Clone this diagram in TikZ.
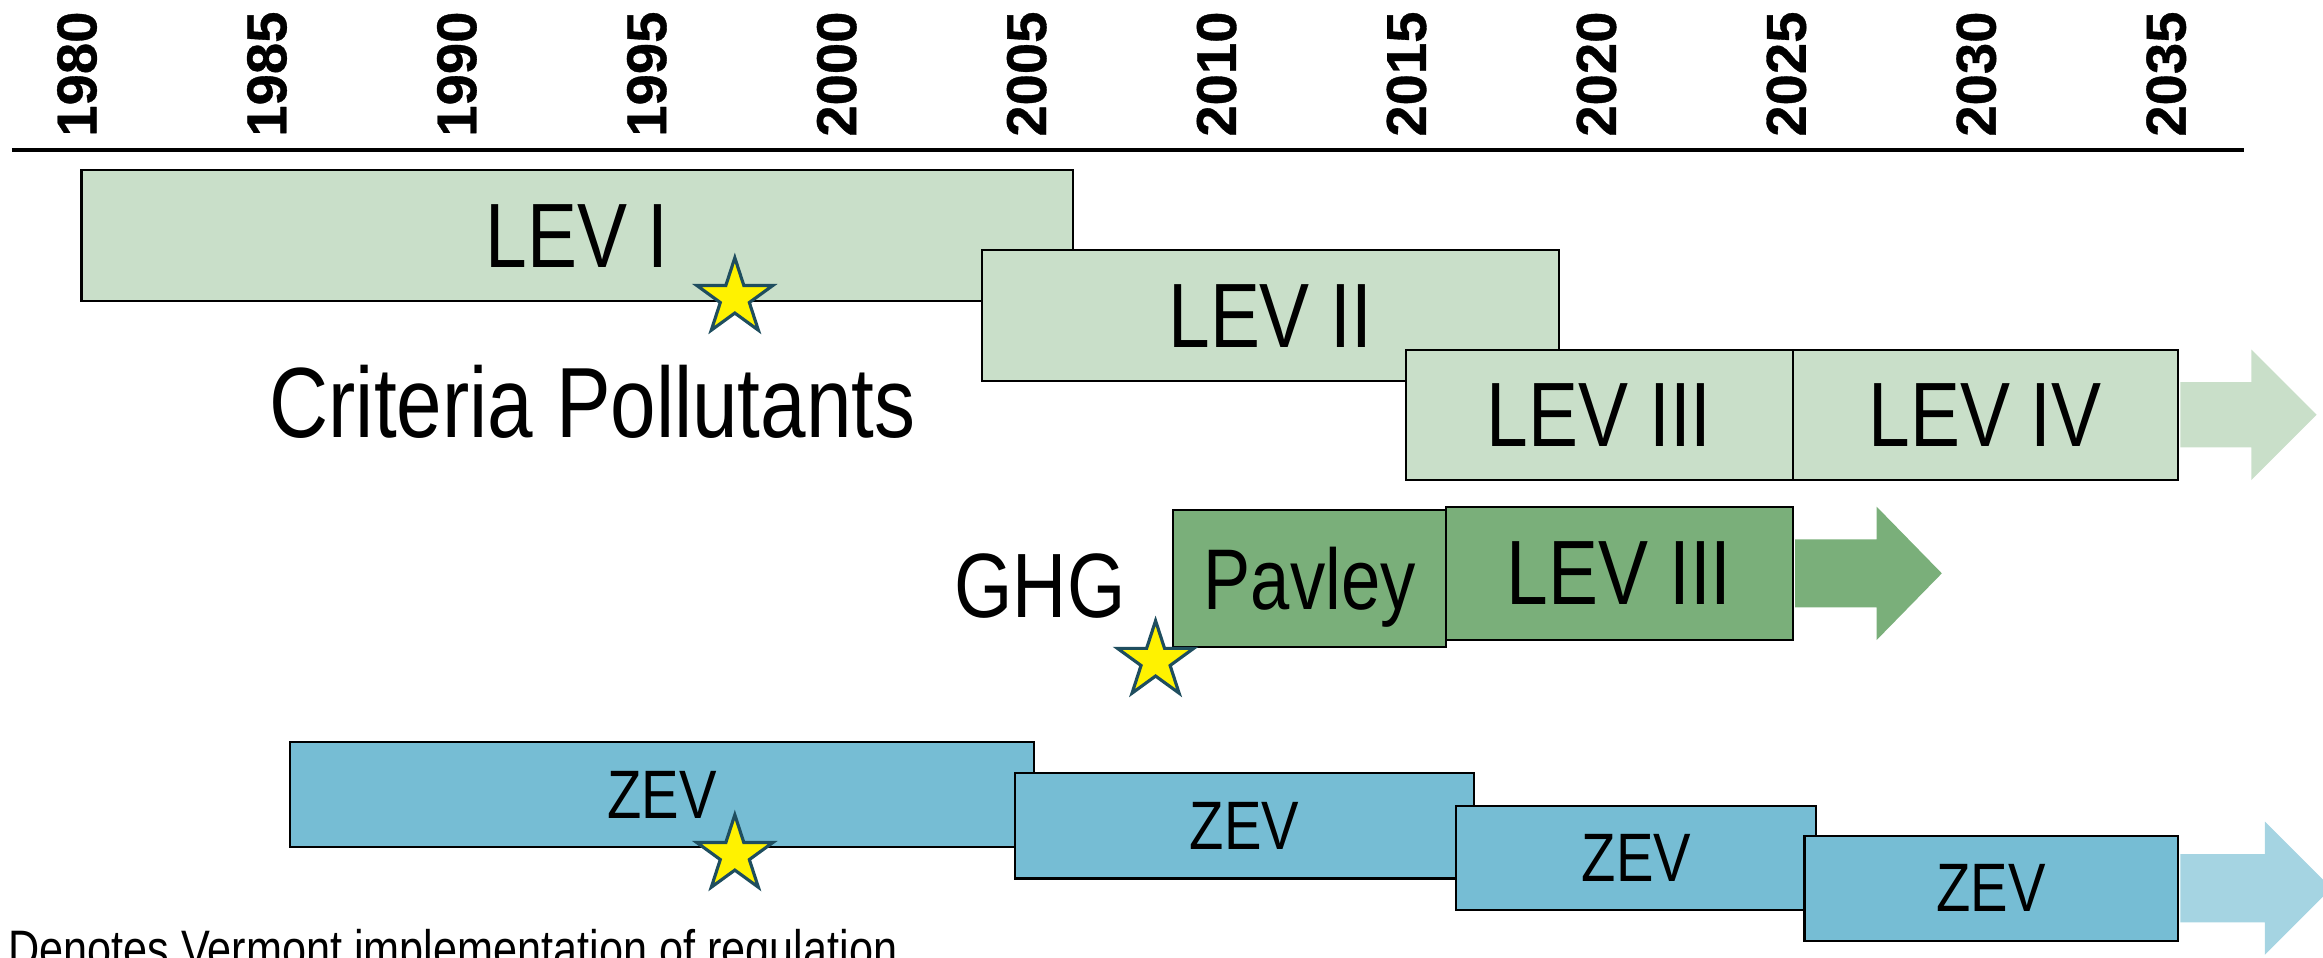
\documentclass[tikz,border=0pt]{standalone}
\usepackage{fontspec}
\setmainfont{Liberation Sans}
\newfontfamily\narrowfont[FakeStretch=0.82]{Liberation Sans}
\newfontfamily\yearfont[FakeBold=0.6]{Liberation Sans Bold}
\usetikzlibrary{shapes.geometric}

\definecolor{levfill}{HTML}{C9DFC9}
\definecolor{ghgfill}{HTML}{7AAF7A}
\definecolor{zevfill}{HTML}{76BDD4}
\definecolor{zevarrow}{HTML}{A5D4E2}
\definecolor{staredge}{HTML}{1F4E5F}

\tikzset{
  period/.style={rectangle, draw=black, line width=0.6pt, inner sep=0pt, text depth=0pt, font=\narrowfont\fontsize{26}{28}\selectfont},
  levbox/.style={period, fill=levfill},
  ghgbox/.style={period, fill=ghgfill},
  zevbox/.style={period, fill=zevfill, font=\narrowfont\fontsize{19.5}{22}\selectfont},
  yearlabel/.style={rotate=90, inner sep=0pt, font=\yearfont\fontsize{16}{18}\selectfont},
  biglabel/.style={inner sep=0pt, text depth=0pt, font=\narrowfont\fontsize{27}{30}\selectfont},
  vtstar/.style={star, star points=5, star point ratio=2.618, draw=staredge, line width=0.9pt, fill=yellow, minimum size=0.8cm, inner sep=0pt}
}
% box from its corners: style, name, x1, y1, x2, y2, text
\newcommand{\periodbox}[7]{%
  \node[#1, minimum width={(#5-#3)*0.14815mm}, minimum height={(#6-#4)*0.14815mm}]
    (#2) at ({(#3+#5)/2},{(#4+#6)/2}) {#7};}

\begin{document}
\begin{tikzpicture}[x=0.14815mm, y=-0.14815mm]
\useasboundingbox (0,0) rectangle (1568,646);

% year axis
\foreach \yr [count=\i from 0] in {1980,1985,...,2035}
  \node[yearlabel] (y\yr) at (52+128.2*\i, 50) {\yr};
\coordinate (axl) at (8,101);
\coordinate (axr) at (1515,101);
\draw[line width=1.2pt] (axl) -- (axr);

% criteria pollutants
\periodbox{levbox}{lev1}{55}{115}{724}{203}{LEV I}
\periodbox{levbox}{lev2}{663}{169}{1052}{257}{LEV II}
\periodbox{levbox}{lev3}{949}{236}{1210}{324}{LEV III}
\periodbox{levbox}{lev4}{1210}{236}{1470}{324}{LEV IV}
\fill[levfill] (lev4.east) ++(1,-22) -- ++(48,0) -- ++(0,-22) -- ++(44,44) -- ++(-44,44) -- ++(0,-22) -- ++(-48,0) -- cycle;
\node[biglabel, font=\narrowfont\fontsize{28.4}{31}\selectfont] (crit) at (400,271) {Criteria Pollutants};

% greenhouse gases
\periodbox{ghgbox, font=\narrowfont\fontsize{24.5}{27}\selectfont}{pavley}{792}{344}{976}{437}{Pavley}
\periodbox{ghgbox}{ghglev3}{976}{342}{1210}{432}{LEV III}
\fill[ghgfill] (ghglev3.east) ++(1,-23) -- ++(55,0) -- ++(0,-22) -- ++(44,45) -- ++(-44,45) -- ++(0,-22) -- ++(-55,0) -- cycle;
\node[biglabel, font=\narrowfont\fontsize{26}{28}\selectfont] (ghg) at (702,395) {GHG};

% zero emission vehicles
\periodbox{zevbox}{zev1}{196}{501}{698}{572}{ZEV}
\periodbox{zevbox}{zev2}{685}{522}{995}{593}{ZEV}
\periodbox{zevbox}{zev3}{983}{544}{1226}{614}{ZEV}
\periodbox{zevbox}{zev4}{1218}{564}{1470}{635}{ZEV}
\fill[zevarrow] (zev4.east) ++(1,-23) -- ++(57,0) -- ++(0,-22) -- ++(45,45) -- ++(-45,45) -- ++(0,-22) -- ++(-57,0) -- cycle;

% Vermont stars
\node[vtstar] (star1) at (496,201) {};
\node[vtstar] (star2) at (780,446) {};
\node[vtstar] (star3) at (496,577) {};
\node[anchor=base west, inner sep=0pt, font=\narrowfont\fontsize{15}{17}\selectfont] (note) at (5,653) {Denotes Vermont implementation of regulation};
\end{tikzpicture}
\end{document}
